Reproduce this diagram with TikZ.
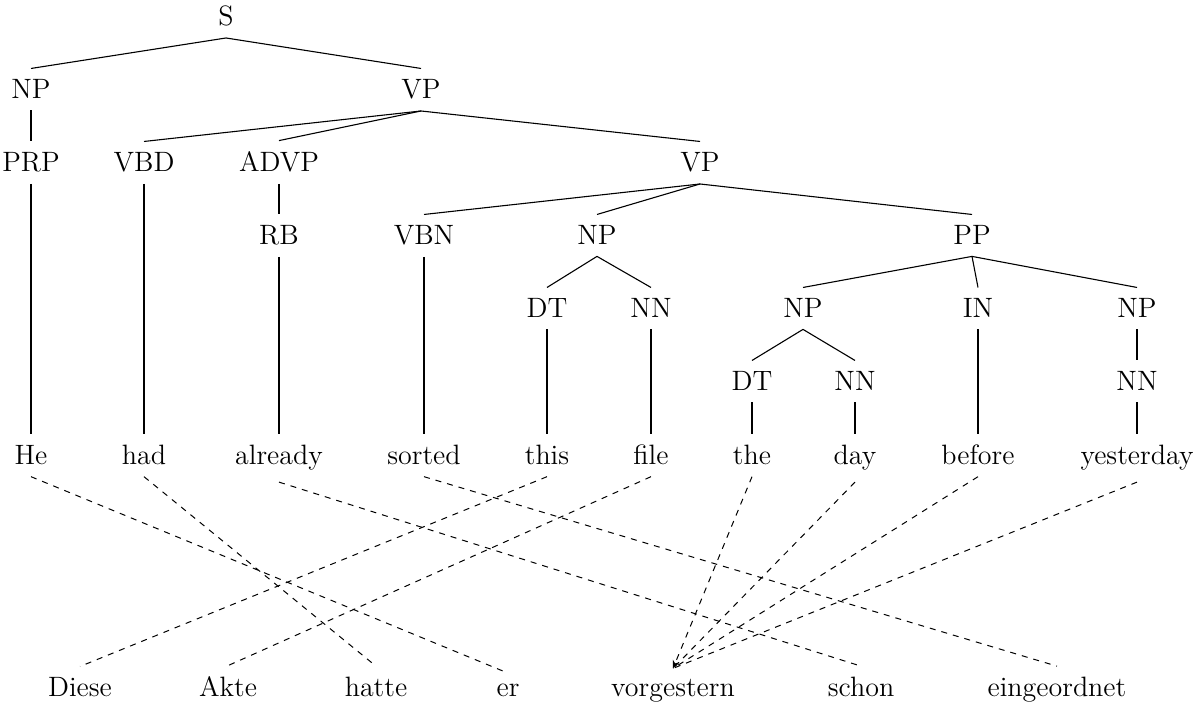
\documentclass[tikz,border=0pt]{standalone}
\usepackage{tikz}
\usetikzlibrary{arrows.meta}
\tikzset{
  cat/.style={anchor=base, inner sep=5.5pt, font=\fontsize{14pt}{17pt}\selectfont},
  word/.style={cat},
  edge/.style={draw=black, line width=0.55pt},
  align/.style={draw=black, line width=0.5pt, dashed},
}

\begin{document}
\begin{tikzpicture}[
  x=0.5pt, y=-0.5pt,
  >={Stealth[length=4pt, width=3.5pt]},
]
\useasboundingbox (0,0) rectangle (1204,704);
% phrase structure
\node[cat] at (226,26)  (s)    {S};
\node[cat] at (31,99)   (np)   {NP};
\node[cat] at (421,99)  (vp)   {VP};
\node[cat] at (31,172)  (prp)  {PRP};
\node[cat] at (144,172) (vbd)  {VBD};
\node[cat] at (279,172) (advp) {ADVP};
\node[cat] at (700,172) (vpb)  {VP};
\node[cat] at (279,245) (rb)   {RB};
\node[cat] at (424,245) (vbn)  {VBN};
\node[cat] at (597,245) (npb)  {NP};
\node[cat] at (972,245) (pp)   {PP};
\node[cat] at (547,318) (dta)  {DT};
\node[cat] at (651,318) (nna)  {NN};
\node[cat] at (803,318) (npc)  {NP};
\node[cat] at (978,318) (in)   {IN};
\node[cat] at (1137,318)(npd)  {NP};
\node[cat] at (752,391) (dtb)  {DT};
\node[cat] at (855,391) (nnb)  {NN};
\node[cat] at (1137,391)(nnc)  {NN};
% english words
\node[word] at (31,465)   (he)   {He};
\node[word] at (144,465)  (had)  {had};
\node[word] at (279,465)  (alr)  {already};
\node[word] at (424,465)  (sort) {sorted};
\node[word] at (547,465)  (this) {this};
\node[word] at (651,465)  (file) {file};
\node[word] at (752,465)  (the)  {the};
\node[word] at (855,465)  (day)  {day};
\node[word] at (978,465)  (bef)  {before};
\node[word] at (1137,465) (yest) {yesterday};
% german words
\node[word] at (80,697)   (diese) {Diese};
\node[word] at (228,697)  (akte)  {Akte};
\node[word] at (376,697)  (hatte) {hatte};
\node[word] at (508,697)  (er)    {er};
\node[word] at (673,697)  (vorg)  {vorgestern};
\node[word] at (861,697)  (schon) {schon};
\node[word] at (1057,697) (eing)  {eingeordnet};
% tree edges
\foreach \a/\b in {s/np, s/vp, np/prp, vp/vbd, vp/advp, vp/vpb, advp/rb,
    vpb/vbn, vpb/npb, vpb/pp, npb/dta, npb/nna, pp/npc, pp/in, pp/npd,
    npc/dtb, npc/nnb, npd/nnc, prp/he, vbd/had, rb/alr, vbn/sort,
    dta/this, nna/file, dtb/the, nnb/day, in/bef, nnc/yest}
  \draw[edge] (\a.south) -- (\b.north);
% alignments
\foreach \a/\b in {he/er, had/hatte, alr/schon, sort/eing, this/diese,
    file/akte, day/vorg, bef/vorg, yest/vorg}
  \draw[align] (\a.south) -- (\b.north);
\draw[align, ->] (the.south) -- (vorg.north);
\end{tikzpicture}
\end{document}
